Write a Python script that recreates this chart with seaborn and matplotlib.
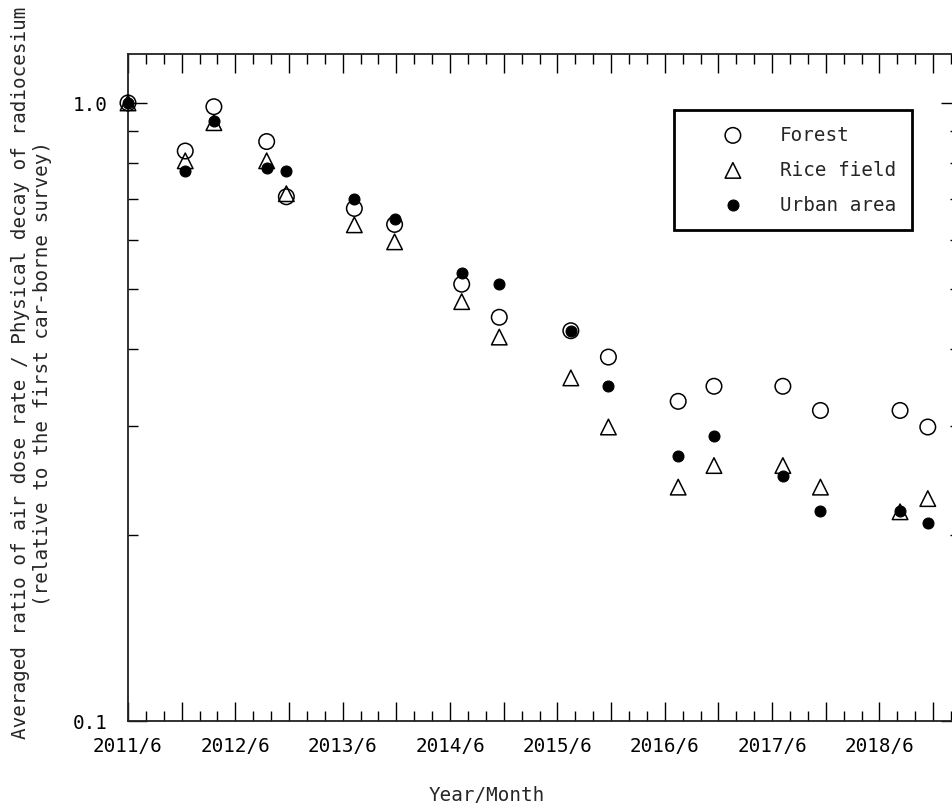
import numpy as np
import pandas as pd
import seaborn as sns
import matplotlib
matplotlib.use("Agg")
import matplotlib.pyplot as plt
from matplotlib.ticker import FixedLocator, NullFormatter

# ---- data (months since 2011/6 of each car-borne survey) ----
survey_month = [0, 6.4, 9.6, 15.5, 17.7, 25.3, 29.8, 37.3, 41.5, 49.5,
                53.7, 61.5, 65.5, 73.2, 77.4, 86.3, 89.4]
forest = [1.00, 0.836, 0.986, 0.866, 0.705, 0.675, 0.636, 0.509, 0.450, 0.428,
          0.388, 0.329, 0.348, 0.348, 0.318, 0.318, 0.299]
rice_field = [1.00, 0.806, 0.929, 0.806, 0.713, 0.635, 0.596, 0.477, 0.418, 0.359,
              0.299, 0.239, 0.259, 0.259, 0.239, 0.218, 0.229]
urban_area = [1.00, 0.776, 0.936, 0.786, 0.776, 0.698, 0.648, 0.530, 0.509, 0.428,
              0.348, 0.268, 0.289, 0.249, 0.219, 0.219, 0.209]
series_names = ["Forest", "Rice field", "Urban area"]
x_tick_labels = ["2011/6", "2012/6", "2013/6", "2014/6", "2015/6", "2016/6",
                 "2017/6", "2018/6"]
y_tick_labels = ["0.1", "1.0"]

sns.set_style("ticks")
plt.rcParams["font.family"] = ["DejaVu Sans Mono", "DejaVu Sans"]
FS = 13.9

df = pd.DataFrame({
    "month": survey_month * 3,
    "ratio": forest + rice_field + urban_area,
    "area": [series_names[0]] * len(forest) + [series_names[1]] * len(rice_field)
            + [series_names[2]] * len(urban_area),
})

fig = plt.figure(figsize=(9.53, 8.12), dpi=100)
ax = fig.add_axes([128 / 953, 90 / 812, 832 / 953, 667 / 812])

styles = {
    "Forest": dict(marker="o", facecolor="none", edgecolor="black", s=125, linewidth=1.1),
    "Rice field": dict(marker="^", facecolor="none", edgecolor="black", s=125, linewidth=1.1),
    "Urban area": dict(marker="o", facecolor="black", edgecolor="black", s=62, linewidth=0.8),
}
for name in series_names:
    sub = df[df["area"] == name]
    st = styles[name]
    sns.scatterplot(data=sub, x="month", y="ratio", ax=ax, marker=st["marker"],
                    s=st["s"], facecolor=st["facecolor"], edgecolor=st["edgecolor"],
                    linewidth=st["linewidth"], label=name, clip_on=False, zorder=3)

ax.set_yscale("log")
ax.set_ylim(0.1, 1.2)
ax.set_xlim(0, 93)

# y ticks
ax.yaxis.set_major_locator(FixedLocator([0.1, 1.0]))
ax.set_yticklabels(y_tick_labels)
ax.yaxis.set_minor_locator(FixedLocator([0.2, 0.3, 0.4, 0.5, 0.6, 0.7, 0.8, 0.9]))
ax.yaxis.set_minor_formatter(NullFormatter())

# x ticks
major_x = list(range(0, 93, 6))
ax.xaxis.set_major_locator(FixedLocator(major_x))
ax.set_xticklabels([x_tick_labels[i // 2] if i % 2 == 0 else "" for i in range(len(major_x))])
ax.xaxis.set_minor_locator(FixedLocator([m for m in range(0, 94, 2) if m % 6 != 0]))

ax.tick_params(which="both", direction="in", top=True, right=True, colors="black",
               labelsize=FS, width=1.0)
ax.tick_params(which="major", length=14)
ax.tick_params(which="minor", length=7.5)
ax.tick_params(axis="y", which="major", pad=15)
ax.tick_params(axis="x", which="major", pad=11)
for sp in ax.spines.values():
    sp.set_visible(True)
    sp.set_color("#222222")
    sp.set_linewidth(1.3)

ax.set_xlabel("")
ax.set_ylabel("")
fig.text(32 / 953, (812 - 373) / 812,
         "Averaged ratio of air dose rate / Physical decay of radiocesium\n"
         "(relative to the first car-borne survey)",
         rotation=90, ha="center", va="center", multialignment="center",
         fontsize=FS, linespacing=1.2)
fig.text(487 / 953, (812 - 796) / 812, "Year/Month", ha="center", va="center",
         fontsize=FS)

leg = ax.legend(loc="upper left", bbox_to_anchor=((674 - 128) / 832, (722 - 111) / 667),
                frameon=True, fancybox=False, fontsize=FS, borderpad=0.8,
                handlelength=4.5, handletextpad=0.2, labelspacing=0.83,
                borderaxespad=0, scatterpoints=1)
leg.get_frame().set_edgecolor("black")
leg.get_frame().set_linewidth(2.0)
leg.get_frame().set_alpha(1)

fig.savefig("out.png", dpi=100)
